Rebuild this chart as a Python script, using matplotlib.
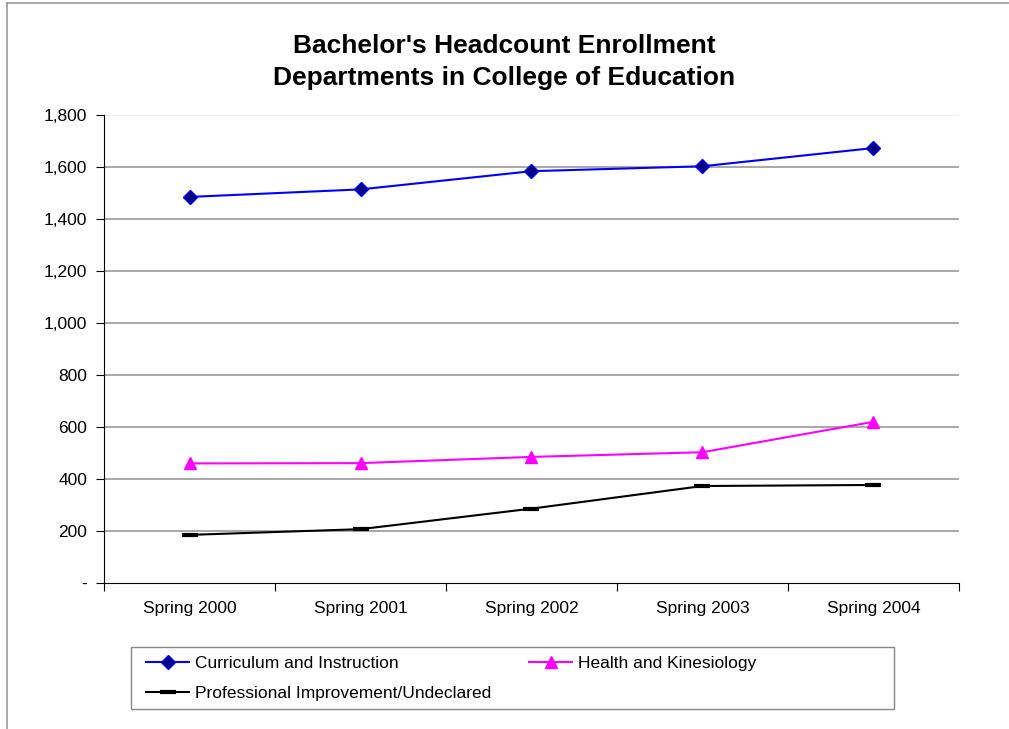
import numpy as np
import matplotlib.pyplot as plt
from matplotlib.lines import Line2D
from matplotlib.patches import Rectangle

plt.rcParams['font.family'] = ['Liberation Sans', 'DejaVu Sans']

years = ['Spring 2000', 'Spring 2001', 'Spring 2002', 'Spring 2003', 'Spring 2004']
curriculum = [1485, 1514, 1584, 1603, 1673]
health = [460, 461, 485, 503, 620]
professional = [185, 207, 286, 373, 377]

W, H = 1009, 729
fig = plt.figure(figsize=(W / 100, H / 100), dpi=100)
ax = fig.add_axes([0.1031, 0.2003, 0.8473, 0.6419])

x = np.arange(len(years))
l1, = ax.plot(x, curriculum, color='#0000FF', lw=1.5, marker='D', ms=7,
              mfc='#000080', mec='#0000FF', label='Curriculum and Instruction')
l2, = ax.plot(x, health, color='#FF00FF', lw=1.5, marker='^', ms=9,
              mfc='#FF00FF', mec='#FF00FF', label='Health and Kinesiology')
l3, = ax.plot(x, professional, color='black', lw=1.5, marker='_', ms=11, mew=3,
              label='Professional Improvement/Undeclared')

ax.set_xlim(-0.5, len(years) - 0.5)
ax.set_ylim(0, 1800)
yt = np.arange(0, 1801, 200)
ax.set_yticks(yt)
ax.set_yticklabels(['-'] + [f'{v:,}' for v in yt[1:]])
ax.set_xticks(np.arange(-0.5, len(years), 1))
ax.set_xticklabels([])
ax.set_xticks(x, minor=True)
ax.set_xticklabels(years, minor=True)
ax.tick_params(axis='x', which='minor', length=0, pad=13, labelsize=12.5)
ax.tick_params(axis='x', which='major', length=6, direction='out')
ax.tick_params(axis='y', length=6, direction='out', labelsize=12.5, pad=6)

for v in yt[1:]:
    ax.axhline(v, color='#999999' if v < 1800 else '#eeeeee', lw=1.2, zorder=0)

ax.spines['top'].set_visible(False)
ax.spines['right'].set_visible(False)

fig.text(0.5, 0.937, "Bachelor's Headcount Enrollment", ha='center', va='center',
         fontsize=19, fontweight='bold')
fig.text(0.5, 0.893, "Departments in College of Education", ha='center', va='center',
         fontsize=19, fontweight='bold')

# legend box drawn separately, entries placed inside it
fig.add_artist(Rectangle((131 / W, 1 - 709 / H), 763 / W, 62 / H, transform=fig.transFigure,
                         fill=False, edgecolor='#888888', lw=1.0))
leg = fig.legend([l1, l3, l2],
                 ['Curriculum and Instruction', 'Professional Improvement/Undeclared',
                  'Health and Kinesiology'],
                 loc='upper left', bbox_to_anchor=(146 / W, 1 - 656 / H),
                 bbox_transform=fig.transFigure, ncol=2, fontsize=12.5,
                 frameon=False, handlelength=2.5, borderpad=0, borderaxespad=0,
                 labelspacing=0.85, handletextpad=0.3, columnspacing=2.2)

fig.add_artist(Line2D([7 / W, 7 / W], [0, 1 - 3 / H], transform=fig.transFigure,
                      color='#999999', lw=1.2))
fig.add_artist(Line2D([7 / W, 1], [1 - 3 / H, 1 - 3 / H], transform=fig.transFigure,
                      color='#999999', lw=1.2))

fig.savefig('out.png', dpi=100)
